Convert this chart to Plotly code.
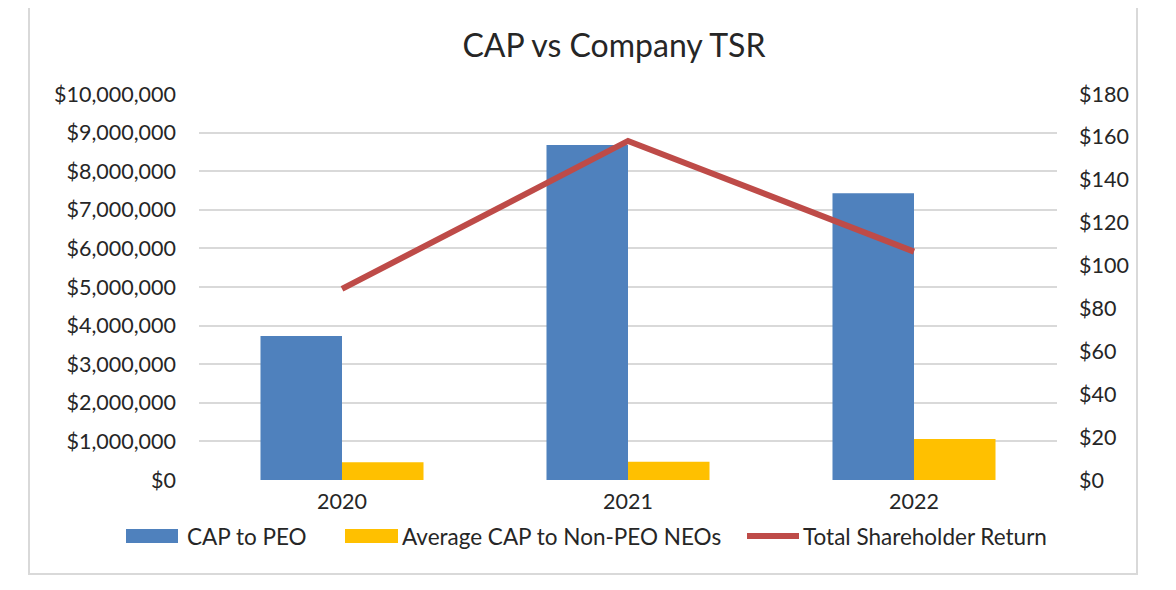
import plotly.graph_objects as go

years = ["2020", "2021", "2022"]
cap_peo = [3730000, 8680000, 7430000]
cap_non_peo = [460000, 470000, 1060000]
tsr = [89.1, 158.1, 106.5]

left_ticks = [0, 1000000, 2000000, 3000000, 4000000, 5000000, 6000000, 7000000, 8000000, 9000000, 10000000]
left_labels = ["$0", "$1,000,000", "$2,000,000", "$3,000,000", "$4,000,000", "$5,000,000",
               "$6,000,000", "$7,000,000", "$8,000,000", "$9,000,000", "$10,000,000"]
right_ticks = [0, 20, 40, 60, 80, 100, 120, 140, 160, 180]
right_labels = ["$0", "$20", "$40", "$60", "$80", "$100", "$120", "$140", "$160", "$180"]

series_names = ["CAP to PEO", "Average CAP to Non-PEO NEOs", "Total Shareholder Return"]
colors = ["#4F81BD", "#FFC000", "#BE4B48"]

FONT = "Lato"
TXT = "#262626"

# page body has an 8px margin; design in reference-pixel coordinates and shift
OFF = 8
W, H = 1176 - 2 * OFF, 590 - 2 * OFF
plot_l, plot_r, plot_t, plot_b = 199, 1057, 94, 480
ml = plot_l - OFF
mr = W - (plot_r - OFF)
mt = plot_t - OFF
mb = H - (plot_b - OFF)
pw, ph = plot_r - plot_l, plot_b - plot_t


def px_x(p):
    return (p - plot_l) / pw


def px_y(p):
    return (plot_b - p) / ph


fig = go.Figure()
fig.add_trace(go.Bar(x=years, y=cap_peo, name=series_names[0], marker=dict(color=colors[0], line=dict(width=0))))
fig.add_trace(go.Bar(x=years, y=cap_non_peo, name=series_names[1], marker=dict(color=colors[1], line=dict(width=0))))
fig.add_trace(go.Scatter(x=years, y=tsr, name=series_names[2], mode="lines",
                         line=dict(color=colors[2], width=6), yaxis="y2"))

shapes = [dict(type="rect", xref="paper", yref="paper",
               x0=px_x(29), x1=px_x(1137), y0=px_y(574), y1=px_y(3),
               line=dict(color="#D9D9D9", width=2), fillcolor="rgba(0,0,0,0)", layer="below")]

# custom legend (swatches + labels) placed like the reference
leg_y = 536
shapes.append(dict(type="rect", xref="paper", yref="paper", x0=px_x(126), x1=px_x(178),
                   y0=px_y(543), y1=px_y(529), fillcolor=colors[0], line=dict(width=0)))
shapes.append(dict(type="rect", xref="paper", yref="paper", x0=px_x(345), x1=px_x(398),
                   y0=px_y(543), y1=px_y(529), fillcolor=colors[1], line=dict(width=0)))
shapes.append(dict(type="line", xref="paper", yref="paper", x0=px_x(747), x1=px_x(799),
                   y0=px_y(leg_y), y1=px_y(leg_y), line=dict(color=colors[2], width=6)))

annotations = []
for name, xl in zip(series_names, [185, 400, 801]):
    annotations.append(dict(text=name, xref="paper", yref="paper", x=px_x(xl), y=px_y(leg_y),
                            xanchor="left", yanchor="middle", showarrow=False,
                            font=dict(family=FONT, size=22.5, color=TXT)))

fig.update_layout(
    width=W, height=H,
    margin=dict(l=ml, r=mr, t=mt, b=mb),
    paper_bgcolor="white", plot_bgcolor="white",
    font=dict(family=FONT, size=21.5, color=TXT),
    title=dict(text="CAP vs Company TSR", x=px_x(614), xanchor="center", xref="paper",
               y=1 - (46 - OFF) / H, yanchor="middle",
               font=dict(family=FONT, size=32, color=TXT)),
    barmode="group", bargap=0.43, bargroupgap=0,
    xaxis=dict(showgrid=False, showline=False, ticks="", ticklabelstandoff=6,
               tickfont=dict(size=21.5, color=TXT)),
    yaxis=dict(range=[0, 10000000], tickvals=left_ticks, ticktext=left_labels,
               showgrid=True, gridcolor="#D9D9D9", gridwidth=1.5, zeroline=False,
               showline=False, ticks="", ticklabelstandoff=22, tickfont=dict(size=21.5, color=TXT)),
    yaxis2=dict(range=[0, 180], tickvals=right_ticks, ticktext=right_labels, overlaying="y", side="right",
                showgrid=False, zeroline=False, showline=False, ticks="", ticklabelstandoff=21,
                tickfont=dict(size=21.5, color=TXT)),
    showlegend=False,
    shapes=shapes,
    annotations=annotations,
)

fig.write_html("out.html")
